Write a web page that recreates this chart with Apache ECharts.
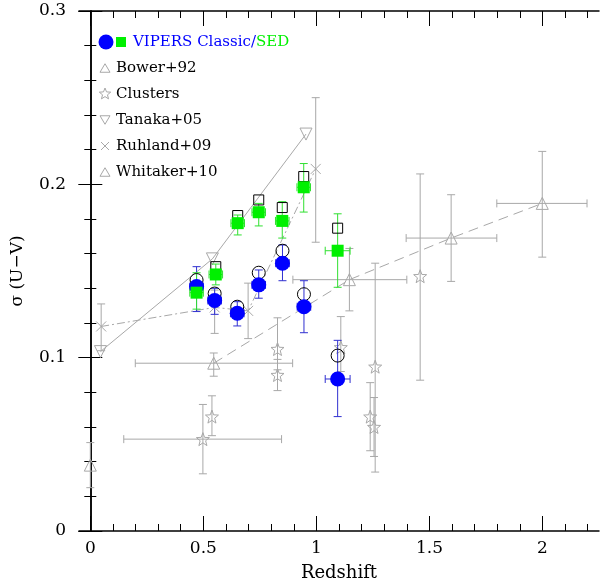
<!DOCTYPE html>
<html><head><meta charset="utf-8">
<script src="https://cdn.jsdelivr.net/npm/echarts@6/dist/echarts.min.js"></script>
<style>html,body{margin:0;padding:0;background:#fff}#c{width:600px;height:582px}</style>
</head><body><div id="c"></div>
<script>
// ---------- axis ticks ----------
const xMajorTicks = [0, 0.5, 1, 1.5, 2];
const xMinorTicks = [0.1,0.2,0.3,0.4,0.6,0.7,0.8,0.9,1.1,1.2,1.3,1.4,1.6,1.7,1.8,1.9,2.1,2.2];
const yMajorTicks = [0, 0.1, 0.2, 0.3];

// ---------- VIPERS Classic (blue) ----------
const classicX    = [0.47, 0.55, 0.65, 0.745, 0.85, 0.945, 1.094];
const classicY    = [0.141, 0.133, 0.1256, 0.142, 0.1545, 0.1294, 0.0877];
const classicYLo  = [0.1266, 0.125, 0.1183, 0.1343, 0.1444, 0.1144, 0.066];
const classicYHi  = [0.1525, 0.140, 0.1323, 0.1506, 0.165, 0.1444, 0.110];
const classicXErr = [0.03, 0.03, 0.03, 0.03, 0.03, 0.03, 0.055];
const classicOpenY = [0.1448, 0.137, 0.1294, 0.149, 0.1617, 0.1366, 0.1012];

// ---------- VIPERS SED (green) ----------
const sedX    = [0.47, 0.555, 0.652, 0.745, 0.849, 0.944, 1.094];
const sedY    = [0.1375, 0.148, 0.1776, 0.1839, 0.1789, 0.1983, 0.1617];
const sedYLo  = [0.128, 0.142, 0.1708, 0.176, 0.169, 0.184, 0.1406];
const sedYHi  = [0.149, 0.154, 0.1823, 0.189, 0.190, 0.212, 0.183];
const sedXErr = [0.03, 0.03, 0.03, 0.03, 0.03, 0.03, 0.055];
const sedOpenY = [0.140, 0.1525, 0.182, 0.191, 0.1866, 0.2045, 0.1747];

// ---------- Bower+92 ----------
const bowerX = [0.0], bowerY = [0.038], bowerYLo = [0.025], bowerYHi = [0.051];

// ---------- Clusters ----------
const clusterX   = [0.498, 0.538, 0.828, 0.828, 1.108, 1.238, 1.255, 1.26, 1.459];
const clusterY   = [0.053, 0.066, 0.105, 0.090, 0.106, 0.066, 0.060, 0.0948, 0.147];
const clusterYLo = [0.033, 0.055, 0.093, 0.081, 0.092, 0.0463, 0.043, 0.034, 0.087];
const clusterYHi = [0.073, 0.078, 0.123, 0.099, 0.1237, 0.0856, 0.077, 0.1545, 0.206];
const clusterXLo = [0.148, null, null, null, null, null, null, null, null];
const clusterXHi = [0.846, null, null, null, null, null, null, null, null];

// ---------- Tanaka+05 ----------
const tanakaX = [0.045, 0.54, 0.954];
const tanakaY = [0.1035, 0.157, 0.229];

// ---------- Ruhland+09 ----------
const ruhlandX   = [0.048, 0.55, 0.698, 0.997];
const ruhlandY   = [0.118, 0.129, 0.127, 0.2089];
const ruhlandYLo = [0.104, 0.114, 0.111, 0.1666];
const ruhlandYHi = [0.131, 0.139, 0.143, 0.250];

// ---------- Whitaker+10 ----------
const whitakerX   = [0.546, 1.146, 1.596, 1.999];
const whitakerY   = [0.0968, 0.145, 0.169, 0.189];
const whitakerYLo = [0.0893, 0.127, 0.144, 0.158];
const whitakerYHi = [0.1027, 0.163, 0.194, 0.219];
const whitakerXLo = [0.199, 0.896, 1.397, 1.798];
const whitakerXHi = [0.895, 1.400, 1.798, 2.197];

// ---------- helpers ----------
const FONT = '"DejaVu Serif", "Liberation Serif", serif';
const GRAY = '#a8a8a8';
const BLUE = '#0000ff', BLUE_ERR = '#3030d0';
const GREEN = '#00f000', GREEN_ERR = '#30e030';

function zip(xs, ys) { return xs.map((x, i) => [x, ys[i]]); }
function errRows(xs, ys, lo, hi, xlo, xhi) {
  return xs.map((x, i) => [x, ys[i], lo ? lo[i] : ys[i], hi ? hi[i] : ys[i],
    (xlo && xlo[i] != null) ? xlo[i] : x, (xhi && xhi[i] != null) ? xhi[i] : x]);
}
function starPoints(cx, cy, R, r) {
  const pts = [];
  for (let k = 0; k < 10; k++) {
    const a = -Math.PI / 2 + k * Math.PI / 5;
    const rad = k % 2 === 0 ? R : r;
    pts.push([cx + rad * Math.cos(a), cy + rad * Math.sin(a)]);
  }
  return pts;
}
const starPath = 'path://' + starPoints(10, 10, 10, 4.2).map((p, i) => (i ? 'L' : 'M') + p[0].toFixed(2) + ',' + p[1].toFixed(2)).join('') + 'Z';
const crossPath = 'path://M0,0L10,10M0,10L10,0';

function errSeries(name, data, color, cap, z) {
  return {
    type: 'custom', name, data, z, clip: true,
    encode: { x: 0, y: 1 },
    renderItem: function (params, api) {
      const x = api.value(0), y = api.value(1);
      const style = { stroke: color, lineWidth: 1, fill: null };
      const ch = [];
      const lo = api.coord([x, api.value(2)]), hi = api.coord([x, api.value(3)]);
      if (Math.abs(lo[1] - hi[1]) > 0.5) {
        ch.push({ type: 'line', shape: { x1: lo[0], y1: lo[1], x2: hi[0], y2: hi[1] }, style });
        ch.push({ type: 'line', shape: { x1: lo[0] - cap, y1: lo[1], x2: lo[0] + cap, y2: lo[1] }, style });
        ch.push({ type: 'line', shape: { x1: hi[0] - cap, y1: hi[1], x2: hi[0] + cap, y2: hi[1] }, style });
      }
      const xl = api.coord([api.value(4), y]), xh = api.coord([api.value(5), y]);
      if (Math.abs(xh[0] - xl[0]) > 0.5) {
        ch.push({ type: 'line', shape: { x1: xl[0], y1: xl[1], x2: xh[0], y2: xh[1] }, style });
        ch.push({ type: 'line', shape: { x1: xl[0], y1: xl[1] - cap, x2: xl[0], y2: xl[1] + cap }, style });
        ch.push({ type: 'line', shape: { x1: xh[0], y1: xh[1] - cap, x2: xh[0], y2: xh[1] + cap }, style });
      }
      return { type: 'group', children: ch };
    }
  };
}
function hollow(name, data, symbol, size, color, z, rotate) {
  return {
    type: 'scatter', name, data, symbol, symbolSize: size, symbolRotate: rotate || 0, z,
    itemStyle: { color: 'rgba(0,0,0,0)', borderColor: color, borderWidth: 1, opacity: 1 },
    emphasis: { disabled: true }
  };
}
function lineSeries(name, data, type, z) {
  return {
    type: 'line', name, data, z, symbol: 'none', silent: true,
    lineStyle: { color: GRAY, width: 1, type, opacity: 1 }
  };
}

const tickStyle = { color: '#000', width: 1 };
const axisLineStyle = { color: '#000', width: 1.5 };
function xAx(position, ticks, len, labels, line) {
  return {
    type: 'value', position, min: -0.05, max: 2.25,
    axisLine: { show: line, lineStyle: axisLineStyle },
    axisTick: { show: true, inside: true, length: len, customValues: ticks, lineStyle: tickStyle },
    axisLabel: labels ? { show: true, customValues: ticks, margin: 9, color: '#000', fontFamily: FONT, fontSize: 17,
      formatter: v => String(v) } : { show: false },
    splitLine: { show: false }, minorTick: { show: false },
    name: (labels ? 'Redshift' : ''), nameLocation: 'middle', nameGap: 33,
    nameTextStyle: { color: '#000', fontFamily: FONT, fontSize: 18 }
  };
}
function yAx(position, labels) {
  return {
    type: 'value', position, min: 0, max: 0.3, interval: 0.1,
    axisLine: { show: true, lineStyle: axisLineStyle },
    axisTick: { show: true, inside: true, length: 12, lineStyle: tickStyle },
    minorTick: { show: true, splitNumber: 5, length: 6, lineStyle: tickStyle },
    axisLabel: labels ? { show: true, margin: 13, color: '#000', fontFamily: FONT, fontSize: 17,
      formatter: v => (v === 0 ? '0' : v.toFixed(1)) } : { show: false },
    splitLine: { show: false }, minorSplitLine: { show: false },
    name: labels ? 'σ (U−V)' : '', nameLocation: 'middle', nameGap: 53,
    nameTextStyle: { color: '#000', fontFamily: FONT, fontSize: 17 }
  };
}

// ---------- legend (graphic) ----------
const LT = { fontFamily: FONT, fontSize: 15, fill: '#000' };
function legText(x, y, t) { return { type: 'text', x, y, style: Object.assign({ text: t, verticalAlign: 'middle' }, LT) }; }
function tri(cx, cy, down) {
  const h = 8.5, w = 10;
  const pts = down ? [[cx - w / 2, cy - h / 2], [cx + w / 2, cy - h / 2], [cx, cy + h / 2]]
                   : [[cx - w / 2, cy + h / 2], [cx + w / 2, cy + h / 2], [cx, cy - h / 2]];
  return { type: 'polygon', shape: { points: pts }, style: { fill: null, stroke: GRAY, lineWidth: 1 } };
}
const legend = [
  { type: 'circle', shape: { cx: 106, cy: 42, r: 7.5 }, style: { fill: BLUE } },
  { type: 'rect', shape: { x: 116, y: 37, width: 10, height: 10 }, style: { fill: GREEN } },
  { type: 'text', x: 133, y: 42, style: { text: '{a|VIPERS Classic/}{b|SED}', verticalAlign: 'middle',
      fontFamily: FONT, fontSize: 15,
      rich: { a: { fill: BLUE, fontFamily: FONT, fontSize: 15 }, b: { fill: GREEN, fontFamily: FONT, fontSize: 15 } } } },
  tri(105, 68, false), legText(116, 68, 'Bower+92'),
  { type: 'polygon', shape: { points: starPoints(105, 94, 6, 2.6) }, style: { fill: null, stroke: GRAY, lineWidth: 1 } },
  legText(116, 94, 'Clusters'),
  tri(105, 120, true), legText(116, 120, 'Tanaka+05'),
  { type: 'line', shape: { x1: 101, y1: 142, x2: 109, y2: 150 }, style: { stroke: GRAY, lineWidth: 1 } },
  { type: 'line', shape: { x1: 101, y1: 150, x2: 109, y2: 142 }, style: { stroke: GRAY, lineWidth: 1 } },
  legText(116, 146, 'Ruhland+09'),
  tri(105, 172, false), legText(116, 172, 'Whitaker+10')
];

const classicXLo = classicX.map((x, i) => x - classicXErr[i]);
const classicXHi = classicX.map((x, i) => x + classicXErr[i]);
const sedXLo = sedX.map((x, i) => x - sedXErr[i]);
const sedXHi = sedX.map((x, i) => x + sedXErr[i]);

const option = {
  animation: false,
  backgroundColor: '#fff',
  grid: { left: 79, right: 1, top: 11, bottom: 51, containLabel: false, outerBoundsMode: 'none' },
  xAxis: [
    xAx('bottom', xMajorTicks, 15, true, true),
    xAx('bottom', xMinorTicks, 7, false, false),
    xAx('top', xMajorTicks, 15, false, true),
    xAx('top', xMinorTicks, 7, false, false)
  ],
  yAxis: [yAx('left', true), yAx('right', false)],
  graphic: legend,
  series: [
    lineSeries('TanakaLine', zip(tanakaX, tanakaY), 'solid', 1),
    lineSeries('RuhlandLine', zip(ruhlandX, ruhlandY), [8, 3, 2, 3], 1),
    lineSeries('WhitakerLine', zip(whitakerX, whitakerY), [10, 6], 1),
    errSeries('BowerErr', errRows(bowerX, bowerY, bowerYLo, bowerYHi), GRAY, 4, 2),
    errSeries('ClusterErr', errRows(clusterX, clusterY, clusterYLo, clusterYHi, clusterXLo, clusterXHi), GRAY, 4, 2),
    errSeries('RuhlandErr', errRows(ruhlandX, ruhlandY, ruhlandYLo, ruhlandYHi), GRAY, 4, 2),
    errSeries('WhitakerErr', errRows(whitakerX, whitakerY, whitakerYLo, whitakerYHi, whitakerXLo, whitakerXHi), GRAY, 4, 2),
    hollow('Bower+92', zip(bowerX, bowerY), 'triangle', 12, GRAY, 3),
    hollow('Clusters', zip(clusterX, clusterY), starPath, 13, GRAY, 3),
    hollow('Tanaka+05', zip(tanakaX, tanakaY), 'triangle', 12, GRAY, 3, 180),
    hollow('Ruhland+09', zip(ruhlandX, ruhlandY), crossPath, 10, GRAY, 3),
    hollow('Whitaker+10', zip(whitakerX, whitakerY), 'triangle', 12, GRAY, 3),
    errSeries('ClassicErr', errRows(classicX, classicY, classicYLo, classicYHi, classicXLo, classicXHi), BLUE_ERR, 4, 4),
    errSeries('SEDErr', errRows(sedX, sedY, sedYLo, sedYHi, sedXLo, sedXHi), GREEN_ERR, 4, 4),
    hollow('ClassicOpen', zip(classicX, classicOpenY), 'circle', 13, '#000', 5),
    hollow('SEDOpen', zip(sedX, sedOpenY), 'rect', 10, '#000', 5),
    { type: 'scatter', name: 'VIPERS Classic', data: zip(classicX, classicY), symbol: 'circle', symbolSize: 15, z: 6,
      itemStyle: { color: BLUE, opacity: 1 }, emphasis: { disabled: true } },
    { type: 'scatter', name: 'VIPERS SED', data: zip(sedX, sedY), symbol: 'rect', symbolSize: 12, z: 7,
      itemStyle: { color: GREEN, opacity: 1 }, emphasis: { disabled: true } }
  ]
};
const chart = echarts.init(document.getElementById('c'), null, { renderer: 'canvas' });
chart.setOption(option);
</script></body></html>
